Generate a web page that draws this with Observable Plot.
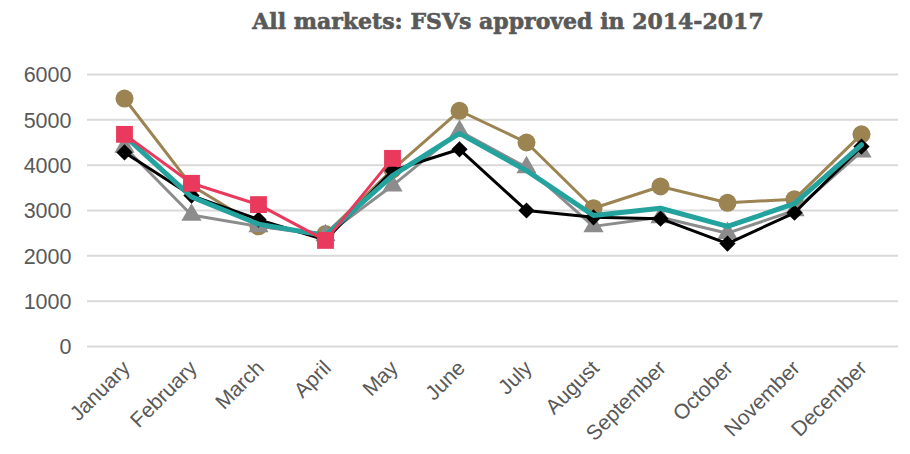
<!DOCTYPE html>
<html>
<head>
<meta charset="utf-8">
<script src="https://cdn.jsdelivr.net/npm/d3@7"></script>
<script src="https://cdn.jsdelivr.net/npm/@observablehq/plot@0.6"></script>
<style>
  body { margin: 0; background: #fff; }
  #wrap { position: relative; width: 910px; height: 454px; }
  #title { position: absolute; left: 0; width: 1016px; top: 8px; text-align: center;
    font-family: "DejaVu Serif", serif; font-weight: bold; font-size: 22px; color: #595959;
    -webkit-text-stroke: 0.6px #595959; }
</style>
</head>
<body>
<div id="wrap"><div id="title">All markets: FSVs approved in 2014-2017</div></div>
<script>
const months = ["January","February","March","April","May","June","July","August","September","October","November","December"];
const yTicks = [0, 1000, 2000, 3000, 4000, 5000, 6000];
const s2014 = [5470, 3550, 2650, 2480, 3900, 5200, 4500, 3050, 3530, 3170, 3250, 4680];
const s2015 = [4400, 2900, 2650, 2450, 3550, 4750, 3950, 2650, 2850, 2500, 3000, 4300];
const s2016 = [4280, 3330, 2800, 2350, 3880, 4350, 3000, 2850, 2820, 2270, 2950, 4410];
const sAvg  = [4650, 3300, 2700, 2450, 3770, 4700, 3880, 2890, 3050, 2650, 3150, 4450];
const s2017 = [4680, 3600, 3130, 2340, 4150];

const series = [
  {name: "2014", values: s2014, color: "#9b8352", width: 3, symbol: "circle", r: 9},
  {name: "2015", values: s2015, color: "#8c8c8c", width: 3, symbol: "triangle", r: 7.5},
  {name: "2016", values: s2016, color: "#000000", width: 3, symbol: "diamond2", r: 7.3},
  {name: "Average", values: sAvg, color: "#23a29e", width: 5, symbol: null, r: 0},
  {name: "2017", values: s2017, color: "#e9395c", width: 3, symbol: "square", r: 9.5}
];

const marks = [Plot.ruleY(yTicks, {stroke: "#d9d9d9", strokeWidth: 2})];
for (const s of series) {
  const data = s.values.map((v, i) => ({month: months[i], value: v, series: s.name}));
  marks.push(Plot.line(data, {x: "month", y: "value", stroke: s.color, strokeWidth: s.width, strokeLinejoin: "miter"}));
  if (s.symbol) {
    marks.push(Plot.dot(data, {x: "month", y: "value", symbol: s.symbol, r: s.r, fill: s.color, stroke: "none"}));
  }
}
marks.push(Plot.axisY({ticks: yTicks, tickSize: 0, tickPadding: 16, fontSize: 21.5, dy: 1, tickFormat: d => String(d)}));
marks.push(Plot.axisX({tickRotate: -45, tickSize: 0, tickPadding: 8, fontSize: 21, dx: 2, dy: 10}));

const chart = Plot.plot({
  width: 910,
  height: 454,
  marginLeft: 87,
  marginRight: 12,
  marginTop: 74,
  marginBottom: 108,
  style: {fontFamily: "'Liberation Sans', Arial, sans-serif", color: "#595959", background: "#fff"},
  x: {type: "point", domain: months, padding: 0.5, label: null},
  y: {domain: [0, 6000], label: null},
  marks
});
document.getElementById("wrap").prepend(chart);
</script>
</body>
</html>
